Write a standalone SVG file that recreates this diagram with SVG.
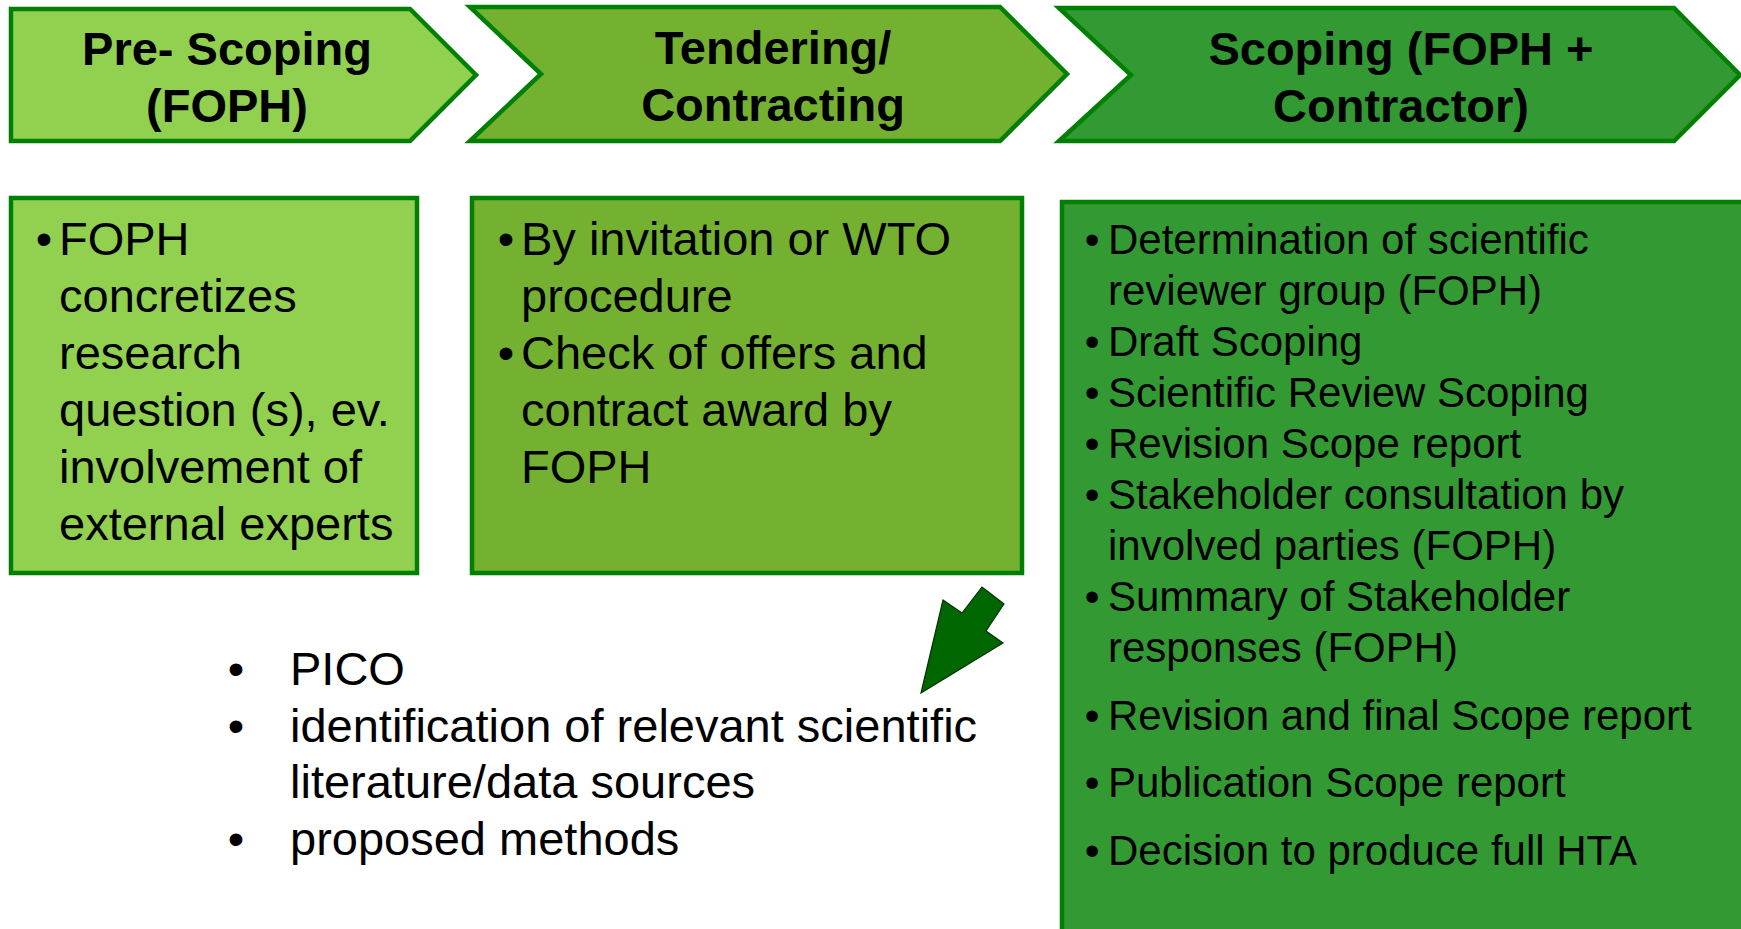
<svg xmlns="http://www.w3.org/2000/svg" width="1741" height="929" viewBox="0 0 1741 929">
<style>
.shape{stroke:#008000;stroke-width:4.5;stroke-linejoin:miter}
.g1{fill:#92D050}
.g2{fill:#75B130}
.g3{fill:#339933}
.hdr{font-family:"Liberation Sans",Arial,sans-serif;font-weight:bold;font-size:47px;fill:#000;text-anchor:middle}
.body{font-family:"Liberation Sans",Arial,sans-serif;font-size:47px;fill:#000}
.body3{font-family:"Liberation Sans",Arial,sans-serif;font-size:42px;fill:#000}
.bul{text-anchor:middle}
</style>
<rect width="1741" height="929" fill="#ffffff"/>

<g id="phase-prescoping">
<polygon class="shape g1" points="11,9 410,9 476,75 410,141 11,141"/>
<text class="hdr" x="227" y="65">Pre- Scoping</text>
<text class="hdr" x="227" y="122">(FOPH)</text>
</g>

<g id="phase-tendering">
<polygon class="shape g2" points="470,7 1000,7 1067,74 1000,141 470,141 541,74"/>
<text class="hdr" x="773" y="64">Tendering/</text>
<text class="hdr" x="773" y="121">Contracting</text>
</g>

<g id="phase-scoping">
<polygon class="shape g3" points="1059,8 1674,8 1740,75 1674,141 1059,141 1131,75"/>
<text class="hdr" x="1401" y="65">Scoping (FOPH +</text>
<text class="hdr" x="1401" y="122">Contractor)</text>
</g>

<g id="box-prescoping">
<rect class="shape g1" x="11" y="198" width="406" height="375"/>
<text class="body bul" x="44" y="255">•</text>
<text class="body" x="59" y="255">FOPH</text>
<text class="body" x="59" y="312">concretizes</text>
<text class="body" x="59" y="369">research</text>
<text class="body" x="59" y="426">question (s), ev.</text>
<text class="body" x="59" y="483">involvement of</text>
<text class="body" x="59" y="540">external experts</text>
</g>

<g id="box-tendering">
<rect class="shape g2" x="472" y="198" width="550" height="375"/>
<text class="body bul" x="506" y="255">•</text>
<text class="body" x="521" y="255">By invitation or WTO</text>
<text class="body" x="521" y="312">procedure</text>
<text class="body bul" x="506" y="369">•</text>
<text class="body" x="521" y="369">Check of offers and</text>
<text class="body" x="521" y="426">contract award by</text>
<text class="body" x="521" y="483">FOPH</text>
</g>

<g id="box-scoping">
<rect class="shape g3" x="1062" y="202" width="700" height="760"/>
<text class="body3 bul" x="1092" y="254">•</text>
<text class="body3" x="1108" y="254">Determination of scientific</text>
<text class="body3" x="1108" y="305">reviewer group (FOPH)</text>
<text class="body3 bul" x="1092" y="356">•</text>
<text class="body3" x="1108" y="356">Draft Scoping</text>
<text class="body3 bul" x="1092" y="407">•</text>
<text class="body3" x="1108" y="407">Scientific Review Scoping</text>
<text class="body3 bul" x="1092" y="458">•</text>
<text class="body3" x="1108" y="458">Revision Scope report</text>
<text class="body3 bul" x="1092" y="509">•</text>
<text class="body3" x="1108" y="509">Stakeholder consultation by</text>
<text class="body3" x="1108" y="560">involved parties (FOPH)</text>
<text class="body3 bul" x="1092" y="611">•</text>
<text class="body3" x="1108" y="611">Summary of Stakeholder</text>
<text class="body3" x="1108" y="662">responses (FOPH)</text>
<text class="body3 bul" x="1092" y="730">•</text>
<text class="body3" x="1108" y="730">Revision and final Scope report</text>
<text class="body3 bul" x="1092" y="797">•</text>
<text class="body3" x="1108" y="797">Publication Scope report</text>
<text class="body3 bul" x="1092" y="865">•</text>
<text class="body3" x="1108" y="865">Decision to produce full HTA</text>
</g>

<g id="scope-contents">
<text class="body bul" x="236" y="685">•</text>
<text class="body" x="290" y="685">PICO</text>
<text class="body bul" x="236" y="742">•</text>
<text class="body" x="290" y="742">identification of relevant scientific</text>
<text class="body" x="290" y="798">literature/data sources</text>
<text class="body bul" x="236" y="855">•</text>
<text class="body" x="290" y="855">proposed methods</text>
</g>

<g id="connectors">
<polygon points="921,693 943,600 962,613 982,587 1004,604 986,631 1003,643" fill="#006600" stroke="#003300" stroke-width="1.2" stroke-linejoin="miter"/>
</g>
</svg>
